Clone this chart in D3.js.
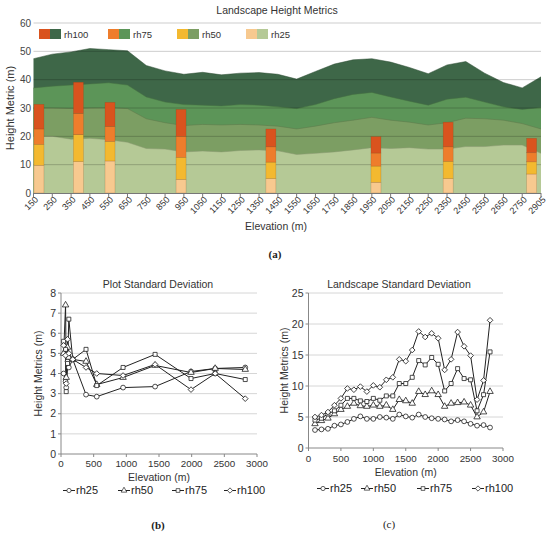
<!DOCTYPE html>
<html><head><meta charset="utf-8">
<script src="https://cdn.jsdelivr.net/npm/d3@7"></script>
<style>body{margin:0;background:#fff}svg{display:block;font-family:"Liberation Sans",Arial,sans-serif}</style>
</head><body><svg id="c" width="550" height="536"></svg>
<script>
// ---------- (a) Landscape Height Metrics ----------
const categories = ["150","250","350","450","550","650","750","850","950","1050","1150","1250","1350","1450","1550","1650","1750","1850","1950","2050","2150","2250","2350","2450","2550","2650","2750","2905"];
const rh100Area = [47.4,49.0,49.8,51.0,50.6,50.2,45.0,43.1,41.9,42.6,41.7,42.3,42.5,41.9,40.2,42.9,45.5,47.0,47.4,46.2,44.3,42.1,45.2,46.4,42.3,39.0,37.1,41.0];
const rh75Area  = [37.1,37.7,38.1,38.5,38.9,38.1,33.9,32.1,31.2,31.0,30.7,31.2,31.0,30.4,29.8,31.2,33.3,34.8,35.5,33.9,32.4,31.0,33.1,33.8,32.1,30.4,29.5,30.2];
const rh50Area  = [30.0,30.0,29.8,30.0,30.1,29.8,26.2,24.8,23.8,24.2,24.0,24.2,24.0,23.6,22.6,23.6,24.8,25.7,26.7,25.7,25.0,24.0,24.8,26.4,26.2,25.7,24.5,22.6];
const rh25Area  = [20.0,20.0,19.0,19.3,18.8,17.9,15.7,15.5,14.5,14.8,14.5,15.0,15.2,14.9,13.6,14.0,14.5,15.2,16.0,15.7,16.0,15.5,15.5,16.4,16.4,16.9,16.9,14.0];
const yTicksA = [0,10,20,30,40,50,60];

const plotElev = [179, 389, 557, 935, 1413, 1972, 2356, 2828];
const rh25Bar  = [9.8, 11.1, 11.3, 4.8, 5.1, 3.8, 5.1, 6.7];
const rh50Bar  = [17.2, 20.6, 18.2, 12.6, 10.9, 9.5, 11.2, 11.0];
const rh75Bar  = [22.6, 28.1, 23.5, 20.0, 16.3, 14.1, 16.3, 14.2];
const rh100Bar = [31.3, 39.1, 32.0, 29.5, 22.6, 19.9, 25.0, 19.3];

const seriesNames = ["rh100","rh75","rh50","rh25"];

// ---------- (b) Plot Standard Deviation ----------
const plotSdElev = [40, 70, 80, 100, 120, 180, 383, 547, 950, 1440, 1990, 2360, 2820];
const plotSdRh25  = [4.0, 3.6, 3.3, 4.6, 4.3, 4.7, 2.95, 2.85, 3.3, 3.35, 4.1, 4.25, 4.3];
const plotSdRh50  = [5.0, 7.4, 3.8, 5.3, 4.8, 4.7, 4.6, 3.45, 3.8, 4.4, 4.05, 4.25, 4.2];
const plotSdRh75  = [5.6, 5.2, 3.1, 4.5, 6.7, 4.7, 5.2, 3.4, 4.3, 4.95, 3.75, 4.0, 3.7];
const plotSdRh100 = [5.4, 4.9, 3.5, 5.7, 5.0, 4.7, 4.3, 4.0, 3.9, 4.45, 3.2, 4.0, 2.75];
const plotSdYTicks = [0,1,2,3,4,5,6,7,8];

// ---------- (c) Landscape Standard Deviation ----------
const landSdElev = [100,200,300,400,500,600,700,800,900,1000,1100,1200,1300,1400,1500,1600,1700,1800,1900,2000,2100,2200,2300,2400,2500,2600,2700,2800];
const landSdRh25  = [2.9,3.0,3.1,3.6,3.8,4.2,4.7,5.1,4.7,4.7,5.0,4.9,4.7,5.4,5.1,4.9,5.4,5.0,4.8,4.7,4.6,4.3,4.5,4.3,3.9,3.6,3.7,3.3];
const landSdRh50  = [3.9,4.4,4.8,5.5,6.2,6.7,7.2,6.8,6.7,6.9,6.7,6.9,6.2,7.8,7.6,7.2,9.1,8.6,9.2,8.6,6.7,7.2,7.3,7.4,6.9,5.0,5.8,9.1];
const landSdRh75  = [4.5,4.8,5.5,6.0,6.9,8.0,8.0,7.6,7.5,8.0,7.7,8.4,8.4,10.4,10.4,11.4,14.1,13.4,14.6,13.5,9.2,10.4,12.8,11.2,11.0,6.0,8.6,15.5];
const landSdRh100 = [5.0,5.3,5.8,6.9,8.0,9.6,9.4,9.9,9.1,10.1,9.8,11.0,11.4,14.3,14.0,15.8,18.8,17.9,18.5,17.7,12.6,14.3,18.7,16.4,14.9,7.8,10.9,20.6];
const landSdYTicks = [0,5,10,15,20,25];
const elevTicks = [0,500,1000,1500,2000,2500,3000];
const sdLegend = ["rh25","rh50","rh75","rh100"];

const svg = d3.select("#c");
svg.append("rect").attr("width",550).attr("height",536).attr("fill","#fff");

// ================= Chart (a) =================
const areaColors = {rh100:"#3e6748", rh75:"#5c9558", rh50:"#7c9e63", rh25:"#b5c996"};
const barColors  = {rh100:"#d9531e", rh75:"#ee7d2c", rh50:"#f3b930", rh25:"#f7c98f"};
const xA = d3.scalePoint().domain(categories).range([33.5, 541]);
const yA = d3.scaleLinear().domain([0,60]).range([193, 23]);
const elevToX = d3.scaleLinear().domain(categories.map(Number)).range(categories.map(c => xA(c)));

const gA = svg.append("g");
const areaData = {rh100: rh100Area, rh75: rh75Area, rh50: rh50Area, rh25: rh25Area};
const areaGen = d3.area().x((d,i) => xA(categories[i])).y0(yA(0)).y1(d => yA(d));
const lineGen = d3.line().x((d,i) => xA(categories[i])).y(d => yA(d));
seriesNames.forEach(s => {
  gA.append("path").attr("d", areaGen(areaData[s])).attr("fill", areaColors[s]);
  gA.append("path").attr("d", lineGen(areaData[s])).attr("fill","none")
    .attr("stroke", d3.color(areaColors[s]).darker(0.8)).attr("stroke-width",0.7).attr("opacity",0.7);
});
gA.selectAll("line.grid").data(yTicksA.filter(d => d > 0)).enter().append("line")
  .attr("x1", 33.5).attr("x2", 541).attr("y1", d => yA(d)).attr("y2", d => yA(d))
  .attr("stroke","rgba(0,0,0,0.2)").attr("stroke-width",1);
const barData = plotElev.map((e,i) => ({e, vals:[0, rh25Bar[i], rh50Bar[i], rh75Bar[i], rh100Bar[i]]}));
const stackOrder = ["rh25","rh50","rh75","rh100"];
barData.forEach(b => {
  const cx = elevToX(b.e);
  stackOrder.forEach((s,k) => {
    gA.append("rect").attr("x", cx - 5).attr("width", 10)
      .attr("y", yA(b.vals[k+1])).attr("height", yA(b.vals[k]) - yA(b.vals[k+1]))
      .attr("fill", barColors[s]).attr("stroke","rgba(120,60,20,0.35)").attr("stroke-width",0.5);
  });
});
gA.append("line").attr("x1",33.5).attr("x2",541).attr("y1",193.5).attr("y2",193.5).attr("stroke","#777");
categories.forEach(c => {
  gA.append("line").attr("x1",xA(c)).attr("x2",xA(c)).attr("y1",193).attr("y2",197).attr("stroke","#777");
  gA.append("text").attr("transform",`translate(${xA(c)+3},${198}) rotate(-45)`)
    .attr("text-anchor","end").attr("dy","0.35em").attr("font-size",9).attr("fill","#333").text(c);
});
yTicksA.forEach(t => {
  gA.append("text").attr("x",31).attr("y",yA(t)).attr("dy","0.35em").attr("text-anchor","end")
    .attr("font-size",10).attr("fill","#444").text(t);
});
gA.append("text").attr("transform","translate(14,108) rotate(-90)").attr("text-anchor","middle")
  .attr("font-size",11).attr("fill","#333").text("Height Metric (m)");
gA.append("text").attr("x",277).attr("y",14).attr("text-anchor","middle").attr("font-size",10.5).attr("fill","#333").text("Landscape Height Metrics");
gA.append("text").attr("x",276).attr("y",230).attr("text-anchor","middle").attr("font-size",10.5).attr("fill","#333").text("Elevation (m)");
seriesNames.forEach((s,i) => {
  const x0 = 39 + i*69;
  gA.append("rect").attr("x",x0).attr("y",29).attr("width",11).attr("height",10).attr("fill",barColors[s]);
  gA.append("rect").attr("x",x0+11).attr("y",29).attr("width",11).attr("height",10).attr("fill",areaColors[s]);
  gA.append("text").attr("x",x0+25).attr("y",37.5).attr("font-size",9.5).attr("fill","#333").text(s);
});
svg.append("text").attr("x",275).attr("y",258).attr("text-anchor","middle").attr("font-family","'Liberation Serif',serif")
  .attr("font-weight","bold").attr("font-size",11).attr("fill","#222").text("(a)");

// ================= SD charts =================
const symbolTypes = {rh25: d3.symbolCircle, rh50: d3.symbolTriangle, rh75: d3.symbolSquare, rh100: d3.symbolSquare};
const symbolRot = {rh25:0, rh50:0, rh75:0, rh100:45};
const symbolSize = {rh25:18, rh50:18, rh75:16, rh100:16};
function sdChart(o) {
  const g = svg.append("g");
  const x = d3.scaleLinear().domain([0,3000]).range([o.x0, o.x1]);
  const y = d3.scaleLinear().domain([0, o.yTicks[o.yTicks.length-1]]).range([o.yb, o.yt]);
  o.yTicks.filter(t => t > 0).forEach(t => {
    g.append("line").attr("x1",o.x0).attr("x2",o.x1).attr("y1",y(t)).attr("y2",y(t)).attr("stroke","#d6d6d6");
  });
  o.yTicks.forEach(t => {
    g.append("line").attr("x1",o.x0-3).attr("x2",o.x0).attr("y1",y(t)).attr("y2",y(t)).attr("stroke","#888");
    g.append("text").attr("x",o.x0-5).attr("y",y(t)).attr("dy","0.35em").attr("text-anchor","end")
      .attr("font-size",10.5).attr("fill","#333").text(t);
  });
  g.append("line").attr("x1",o.x0).attr("x2",o.x0).attr("y1",o.yt).attr("y2",o.yb).attr("stroke","#888");
  g.append("line").attr("x1",o.x0).attr("x2",o.x1).attr("y1",o.yb).attr("y2",o.yb).attr("stroke","#888");
  elevTicks.forEach(t => {
    g.append("line").attr("x1",x(t)).attr("x2",x(t)).attr("y1",o.yb).attr("y2",o.yb+3).attr("stroke","#888");
    g.append("text").attr("x",x(t)).attr("y",o.xLabY).attr("text-anchor","middle")
      .attr("font-size",9.8).attr("fill","#333").text(t);
  });
  const line = d3.line().x((d,i) => x(o.elev[i])).y(d => y(d));
  const order = ["rh25","rh50","rh75","rh100"];
  order.forEach(s => {
    g.append("path").attr("d", line(o.series[s])).attr("fill","none").attr("stroke","#222").attr("stroke-width",1);
  });
  order.forEach(s => {
    const sym = d3.symbol().type(symbolTypes[s]).size(symbolSize[s]);
    o.series[s].forEach((v,i) => {
      g.append("path").attr("d", sym()).attr("transform",`translate(${x(o.elev[i])},${y(v)}) rotate(${symbolRot[s]})`)
        .attr("fill","#fff").attr("stroke","#222").attr("stroke-width",0.8);
    });
  });
  g.append("text").attr("x",o.titleX).attr("y",o.titleY).attr("text-anchor","middle").attr("font-size",10.5).attr("fill","#333").text(o.title);
  g.append("text").attr("x",(o.x0+o.x1)/2).attr("y",o.xTitleY).attr("text-anchor","middle").attr("font-size",10.5).attr("fill","#333").text("Elevation (m)");
  g.append("text").attr("transform",`translate(${o.yTitleX},${(o.yt+o.yb)/2}) rotate(-90)`).attr("text-anchor","middle")
    .attr("font-size",10.5).attr("fill","#333").text("Height Metrics (m)");
  sdLegend.forEach((s,i) => {
    const lx = o.legX[i], ly = o.legY;
    g.append("line").attr("x1",lx).attr("x2",lx+12).attr("y1",ly-3.5).attr("y2",ly-3.5).attr("stroke","#222");
    g.append("path").attr("d", d3.symbol().type(symbolTypes[s]).size(14)()).attr("transform",`translate(${lx+6},${ly-3.5}) rotate(${symbolRot[s]})`)
      .attr("fill","#fff").attr("stroke","#222").attr("stroke-width",0.7);
    g.append("text").attr("x",lx+13).attr("y",ly).attr("font-size",11).attr("fill","#222").text(s);
  });
  g.append("text").attr("x",o.tagX).attr("y",o.tagY).attr("text-anchor","middle").attr("font-family","'Liberation Serif',serif")
    .attr("font-weight",o.tagBold?"bold":"normal").attr("font-size",11).attr("fill","#222").text(o.tag);
}

sdChart({x0:61, x1:257, yb:454, yt:293, yTicks:plotSdYTicks, elev:plotSdElev,
  series:{rh25:plotSdRh25, rh50:plotSdRh50, rh75:plotSdRh75, rh100:plotSdRh100},
  title:"Plot Standard Deviation", titleX:158, titleY:288, xLabY:467, xTitleY:481, yTitleX:42,
  legX:[63,118,172,224], legY:494, tag:"(b)", tagX:158, tagY:529, tagBold:true});
sdChart({x0:308.5, x1:503, yb:448, yt:293, yTicks:landSdYTicks, elev:landSdElev,
  series:{rh25:landSdRh25, rh50:landSdRh50, rh75:landSdRh75, rh100:landSdRh100},
  title:"Landscape Standard Deviation", titleX:399, titleY:288, xLabY:462, xTitleY:476, yTitleX:288,
  legX:[317,361,417,472], legY:492, tag:"(c)", tagX:389, tagY:528, tagBold:false});
</script></body></html>
